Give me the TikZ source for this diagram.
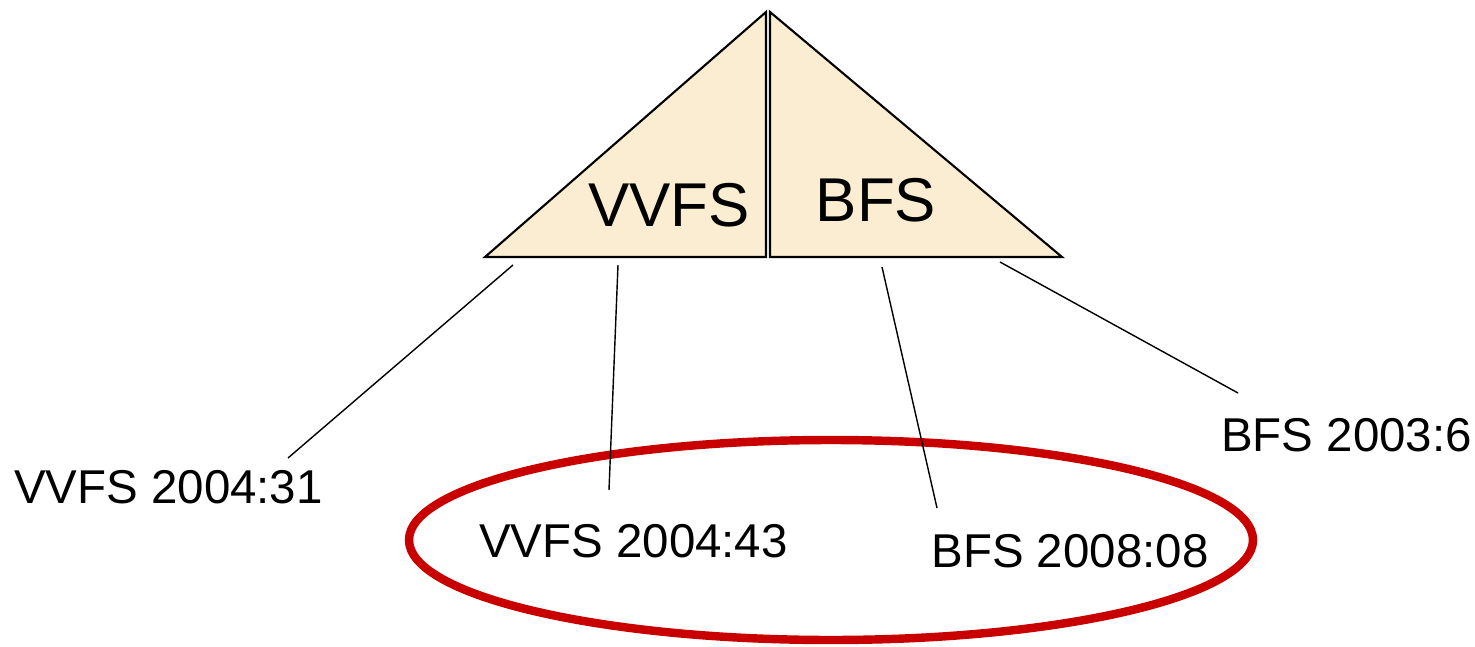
\documentclass[tikz,border=0pt]{standalone}
\usepackage{fontspec}
\setmainfont{Liberation Sans}
\usetikzlibrary{calc}
\definecolor{tri_beige}{RGB}{250, 237, 210}
\definecolor{ring_red}{RGB}{200, 0, 0}
\tikzstyle{none}=[inner sep=0pt]
\tikzstyle{lbl}=[inner sep=0pt,font=\fontsize{13.5}{16}\selectfont]
\tikzstyle{big}=[inner sep=0pt,font=\fontsize{17.6}{21}\selectfont]
\tikzstyle{tri}=[fill=tri_beige,draw=black,line width=0.6pt,line join=miter]
\tikzstyle{ring}=[draw=ring_red,line width=2.4pt]
\begin{document}
\begin{tikzpicture}
            \useasboundingbox (0, 0) rectangle (14.75, 6.46);
            \node [style=none] (0) at (7.66, 6.34) {};
            \node [style=none] (1) at (4.85, 3.89) {};
            \node [style=none] (2) at (7.66, 3.89) {};
            \node [style=none] (3) at (7.70, 6.34) {};
            \node [style=none] (4) at (7.70, 3.89) {};
            \node [style=none] (5) at (10.62, 3.89) {};
            \draw [style=tri] (0.center) -- (1.center) -- (2.center) -- cycle;
            \draw [style=tri] (3.center) -- (4.center) -- (5.center) -- cycle;
            \node [style=big] (6) at (6.69, 4.41) {VVFS};
            \node [style=big] (7) at (8.76, 4.46) {BFS};
            \draw [style=ring] (8.31, 1.06) ellipse (4.22 and 1.0);
            \node [style=none] (8) at (5.13, 3.81) {};
            \node [style=none] (9) at (2.88, 1.88) {};
            \node [style=none] (10) at (6.18, 3.81) {};
            \node [style=none] (11) at (6.09, 1.56) {};
            \node [style=none] (12) at (8.82, 3.79) {};
            \node [style=none] (13) at (9.37, 1.38) {};
            \node [style=none] (14) at (10.00, 3.84) {};
            \node [style=none] (15) at (12.38, 2.53) {};
            \node [style=lbl] (16) at (1.685, 1.59) {VVFS 2004:31};
            \node [style=lbl] (17) at (6.335, 1.05) {VVFS 2004:43};
            \node [style=lbl] (18) at (10.70, 0.95) {BFS 2008:08};
            \node [style=lbl] (19) at (13.465, 2.11) {BFS 2003:6};
            \draw (8.center) to (9.center);
            \draw (10.center) to (11.center);
            \draw (12.center) to (13.center);
            \draw (14.center) to (15.center);
    \end{tikzpicture}
\end{document}
